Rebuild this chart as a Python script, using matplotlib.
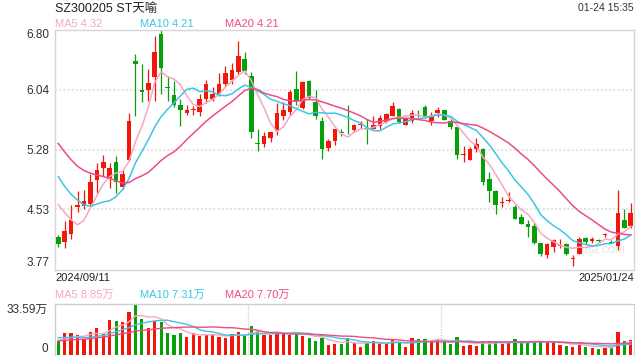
import numpy as np
import matplotlib.pyplot as plt

plt.rcParams['font.family'] = ['Liberation Sans', 'Noto Sans CJK SC', 'DejaVu Sans']

# daily bars 2024/09/11 .. 2025/01/24
opens = [4.18, 4.12, 4.22, 4.56, 4.57, 4.60, 4.90, 5.05, 4.93, 5.13,
         4.81, 5.15, 6.40, 6.03, 6.03, 6.20, 6.74, 6.07, 5.97, 5.85,
         5.74, 5.78, 5.76, 5.92, 5.92, 5.98, 6.11, 6.16, 6.26, 6.43,
         6.21, 5.37, 5.35, 5.43, 5.52, 5.71, 5.76, 6.05, 5.81, 6.15,
         5.88, 5.64, 5.30, 5.39, 5.50, 5.51, 5.53, 5.59, 5.55, 5.54,
         5.58, 5.63, 5.71, 5.80, 5.60, 5.65, 5.75, 5.82, 5.64, 5.74,
         5.78, 5.64, 5.57, 5.22, 5.15, 5.29, 5.29, 4.91, 4.76, 4.61,
         4.63, 4.56, 4.43, 4.34, 4.32, 4.11, 3.95, 4.06, 4.07, 4.09,
         3.90, 3.97, 4.17, 4.13, 4.14, 4.20, 4.12, 4.07, 4.40, 4.32]
highs = [4.20, 4.38, 4.58, 4.76, 4.77, 4.98, 5.12, 5.21, 5.12, 5.20,
         5.03, 5.75, 6.49, 6.36, 6.30, 6.72, 6.80, 6.21, 6.15, 5.92,
         5.85, 5.83, 5.98, 6.16, 6.08, 6.25, 6.34, 6.38, 6.65, 6.52,
         6.26, 5.54, 5.50, 5.51, 5.87, 5.89, 6.04, 6.27, 6.15, 6.16,
         6.03, 5.70, 5.42, 5.55, 5.55, 5.85, 5.61, 5.64, 5.67, 5.71,
         5.72, 5.75, 5.88, 5.81, 5.70, 5.78, 5.78, 5.85, 5.76, 5.82,
         5.79, 5.69, 5.57, 5.33, 5.32, 5.43, 5.31, 5.00, 4.77, 4.68,
         4.75, 4.58, 4.47, 4.40, 4.36, 4.11, 4.11, 4.16, 4.16, 4.11,
         3.95, 4.18, 4.18, 4.18, 4.16, 4.23, 4.14, 4.77, 4.53, 4.61]
lows = [4.06, 4.04, 4.15, 4.49, 4.53, 4.59, 4.73, 4.95, 4.80, 4.73,
        4.79, 5.14, 5.71, 5.88, 5.90, 5.90, 5.98, 5.90, 5.82, 5.58,
        5.72, 5.72, 5.71, 5.87, 5.90, 5.96, 6.09, 6.11, 6.24, 6.24,
        5.43, 5.26, 5.32, 5.38, 5.47, 5.66, 5.71, 5.85, 5.80, 5.92,
        5.67, 5.16, 5.26, 5.34, 5.46, 5.48, 5.50, 5.56, 5.35, 5.54,
        5.55, 5.62, 5.71, 5.62, 5.59, 5.62, 5.70, 5.68, 5.60, 5.69,
        5.66, 5.55, 5.16, 5.13, 5.15, 5.25, 4.84, 4.62, 4.47, 4.56,
        4.62, 4.41, 4.34, 4.18, 4.09, 3.94, 3.92, 3.99, 4.04, 3.95,
        3.81, 3.96, 4.09, 4.10, 4.12, 4.18, 4.10, 4.02, 4.29, 4.29]
closes = [4.09, 4.26, 4.39, 4.58, 4.64, 4.87, 5.02, 5.13, 5.05, 4.88,
          4.97, 5.64, 6.37, 6.01, 6.12, 6.51, 6.32, 6.06, 5.85, 5.78,
          5.79, 5.79, 5.92, 6.11, 5.98, 6.11, 6.25, 6.29, 6.47, 6.27,
          5.50, 5.36, 5.46, 5.50, 5.74, 5.79, 6.01, 5.90, 6.14, 5.94,
          5.71, 5.29, 5.39, 5.54, 5.49, 5.50, 5.59, 5.60, 5.54, 5.59,
          5.68, 5.73, 5.83, 5.63, 5.67, 5.74, 5.74, 5.70, 5.70, 5.79,
          5.66, 5.57, 5.22, 5.23, 5.29, 5.35, 4.87, 4.76, 4.59, 4.62,
          4.65, 4.41, 4.35, 4.31, 4.10, 3.97, 4.09, 4.14, 4.08, 3.97,
          3.91, 4.16, 4.12, 4.15, 4.13, 4.21, 4.11, 4.48, 4.30, 4.48]
# volume in 万手
volumes = [9.2, 14.5, 14.5, 13.0, 10.5, 15.1, 17.8, 13.8, 23.0, 22.4,
           21.7, 28.3, 33.59, 23.7, 17.8, 22.4, 21.7, 14.5, 13.2, 14.5,
           11.9, 14.5, 12.5, 13.2, 13.8, 11.9, 11.2, 13.8, 15.1, 12.5,
           19.1, 15.8, 13.2, 13.2, 15.1, 14.5, 13.2, 15.1, 12.5, 11.2,
           9.2, 11.4, 6.6, 7.2, 7.2, 11.2, 7.9, 5.3, 7.9, 9.2,
           7.9, 7.9, 10.1, 7.9, 5.3, 11.2, 10.5, 10.5, 8.8, 10.5,
           9.2, 7.2, 11.9, 5.9, 6.6, 5.9, 9.2, 9.2, 9.2, 7.2,
           7.9, 10.5, 8.6, 7.9, 9.2, 8.6, 9.2, 8.6, 6.6, 5.9,
           5.3, 8.6, 5.3, 4.6, 4.0, 4.6, 5.3, 15.1, 9.2, 9.9]
# sessions before the window, estimated so the moving averages start where they do
prior_closes = [6.40, 6.35, 6.25, 5.70, 5.55, 5.50, 5.50, 5.50, 5.50, 5.54,
                5.50, 5.40, 5.30, 5.25, 5.05, 4.75, 4.85, 4.90, 4.35]
prior_volumes = [6.5, 7.0, 7.5, 6.8, 7.2, 6.9, 7.1, 7.0, 7.3, 6.7,
                 13.5, 13.0, 12.5, 13.0, 12.5, 11.0, 10.0, 9.8, 9.5]

y_ticks = [3.77, 4.53, 5.28, 6.04, 6.80]
y_labels = ['3.77', '4.53', '5.28', '6.04', '6.80']
vol_max = 33.59
start_label = '2024/09/11'
end_label = '2025/01/24'

RED = '#f2170b'
GREEN = '#08a00a'
C_MA5 = '#f7a6c2'
C_MA10 = '#3cc6e4'
C_MA20 = '#ee4c84'
BORDER = '#d6d6d6'
GRID = '#e4e4e4'


def moving_avg(prior, values, n):
    full = np.concatenate([prior, values])
    k = len(prior)
    return np.array([full[k + i - n + 1:k + i + 1].mean() for i in range(len(values))])


o = np.array(opens)
h = np.array(highs)
l = np.array(lows)
c = np.array(closes)
v = np.array(volumes)
x = np.arange(len(c))
up = c >= o
col = np.where(up, RED, GREEN)

W, H = 640, 360
fig = plt.figure(figsize=(6.4, 3.6), dpi=100)
ax = fig.add_axes([55 / W, 1 - 269.5 / H, 579 / W, 240 / H])
vax = fig.add_axes([55 / W, 1 - 355 / H, 579 / W, 51 / H])

# price panel
for y in y_ticks[1:-1]:
    ax.axhline(y, color=GRID, lw=1.5, ls=(0, (1, 1)), zorder=0)
ax.vlines(x, l, h, colors=col, lw=0.9, zorder=2)
ax.bar(x, np.maximum(np.abs(c - o), 0.012), bottom=np.minimum(o, c),
       width=0.72, color=col, zorder=3)
ax.plot(x, moving_avg(prior_closes, c, 5), color=C_MA5, lw=1.1, zorder=4)
ax.plot(x, moving_avg(prior_closes, c, 10), color=C_MA10, lw=1.1, zorder=4)
ax.plot(x, moving_avg(prior_closes, c, 20), color=C_MA20, lw=1.1, zorder=4)
ax.set_xlim(-0.5, len(c) - 0.5)
ax.set_ylim(y_ticks[0], y_ticks[-1])
ax.set_xticks([])
ax.set_yticks(y_ticks)
ax.set_yticklabels(y_labels, fontsize=8.5, color='#333333')
ax.tick_params(axis='y', length=0, pad=4)
tl = ax.get_yticklabels()
tl[0].set_va('bottom')
tl[-1].set_va('top')
for s in ax.spines.values():
    s.set_color(BORDER)
    s.set_linewidth(1)
ax.text(0.985, 0.08, 'sina.com', transform=ax.transAxes, ha='right', va='center',
        fontsize=9, color='#e6e6e6', zorder=1)

# volume panel
vax.bar(x, v, width=0.5, color=col, zorder=2)
vax.plot(x, moving_avg(prior_volumes, v, 5), color=C_MA5, lw=1.0, zorder=3)
vax.plot(x, moving_avg(prior_volumes, v, 10), color=C_MA10, lw=1.0, zorder=3)
vax.plot(x, moving_avg(prior_volumes, v, 20), color=C_MA20, lw=1.0, zorder=3)
for b in [29.5, 59.5]:
    vax.axvline(b, color='#cfcfcf', lw=1, ls=(0, (1, 1)), zorder=0)
vax.set_xlim(-0.5, len(c) - 0.5)
vax.set_ylim(0, vol_max)
vax.set_xticks([])
vax.set_yticks([0, vol_max])
vax.set_yticklabels(['0', f'{vol_max:.2f}万'], fontsize=8.5, color='#333333')
vax.tick_params(axis='y', length=0, pad=5)
vl = vax.get_yticklabels()
vl[0].set_va('bottom')
vl[-1].set_va('top')
vax.spines['bottom'].set_visible(False)
vax.spines['right'].set_color(BORDER)
for side in ['top', 'left']:
    vax.spines[side].set_color('#cfcfcf')
    vax.spines[side].set_linestyle((0, (1, 1)))
    vax.spines[side].set_linewidth(1)

# header texts
fig.text(55 / W, 1 - 8.5 / H, 'SZ300205 ST天喻', fontsize=9, color='#222222', va='center')
fig.text(634 / W, 1 - 8 / H, '01-24 15:35', fontsize=7.5, color='#333333', ha='right', va='center')
fig.text(55 / W, 1 - 24 / H, 'MA5 4.32', fontsize=8, color=C_MA5, va='center')
fig.text(140 / W, 1 - 24 / H, 'MA10 4.21', fontsize=8, color=C_MA10, va='center')
fig.text(225 / W, 1 - 24 / H, 'MA20 4.21', fontsize=8, color=C_MA20, va='center')
fig.text(55 / W, 1 - 278 / H, start_label, fontsize=8, color='#222222', va='center')
fig.text(634 / W, 1 - 278 / H, end_label, fontsize=8, color='#222222', ha='right', va='center')
fig.text(55 / W, 1 - 295 / H, 'MA5 8.85万', fontsize=8, color=C_MA5, va='center')
fig.text(140 / W, 1 - 295 / H, 'MA10 7.31万', fontsize=8, color=C_MA10, va='center')
fig.text(225 / W, 1 - 295 / H, 'MA20 7.70万', fontsize=8, color=C_MA20, va='center')

fig.savefig('out.png', dpi=100)
